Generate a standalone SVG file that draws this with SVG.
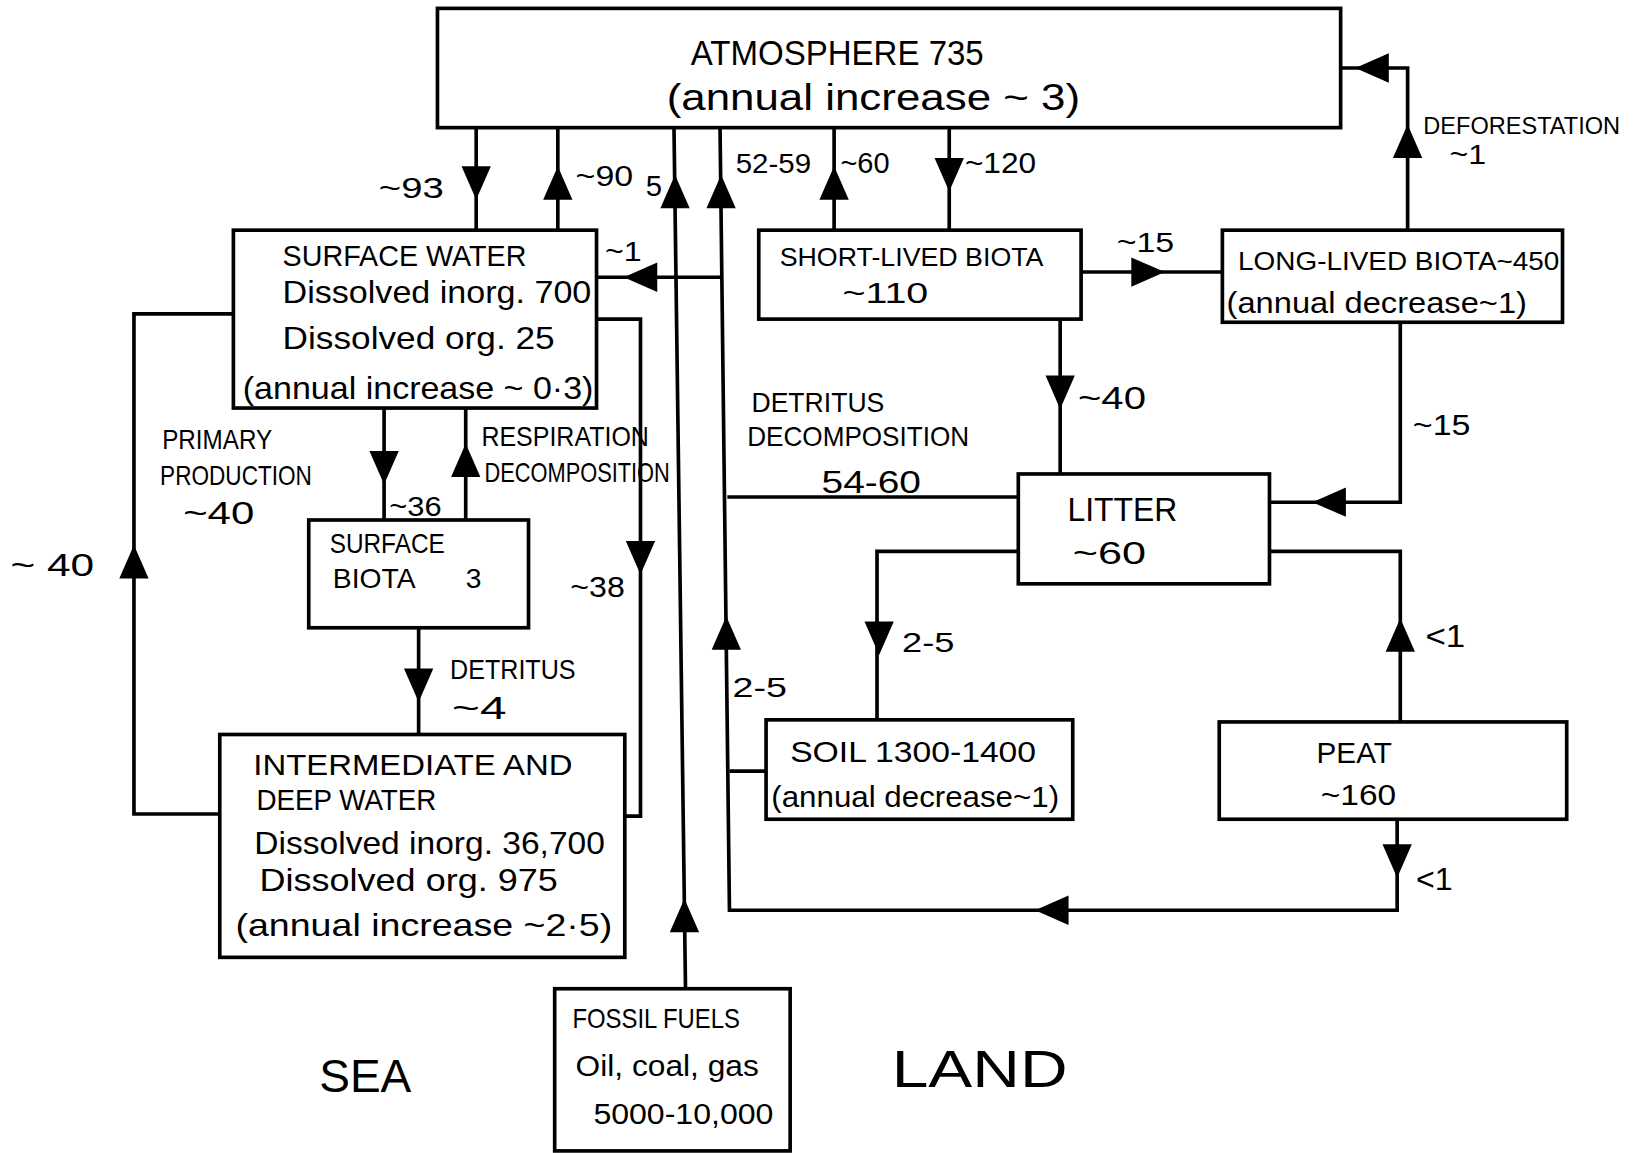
<svg xmlns="http://www.w3.org/2000/svg" xmlns:xlink="http://www.w3.org/1999/xlink" width="1641" height="1153" viewBox="0 0 1641 1153">
<style>
.box{fill:#fff;stroke:#000;stroke-width:3.5}
.ln{fill:none;stroke:#000;stroke-width:3.5;stroke-linejoin:miter}
text{font-family:"Liberation Sans",Arial,sans-serif;fill:#000}
.c{font-size:27px}
.h{font-size:30px}
.l{font-size:28px}
</style>
<defs>
<path id="ah" d="M0,0 L-32,-14 L-32,14 Z" fill="#000"/>
</defs>
<rect width="1641" height="1153" fill="#fff"/>
<g transform="scale(1.04656,1.04628)">
<g id="connectors">
<path class="ln" d="M455,122 V220"/>
<path class="ln" d="M533,122 V220"/>
<path class="ln" d="M644,122 L655,945"/>
<path class="ln" d="M688,122 L697,870 H1335 V783"/>
<path class="ln" d="M689,265 H570"/>
<path class="ln" d="M695,475 H973"/>
<path class="ln" d="M697,737 H732"/>
<path class="ln" d="M797,122 V220"/>
<path class="ln" d="M907,122 V220"/>
<path class="ln" d="M570,305 H612 V780 H597"/>
<path class="ln" d="M367,390 V497"/>
<path class="ln" d="M445,390 V497"/>
<path class="ln" d="M400,600 V702"/>
<path class="ln" d="M210,778 H128 V300 H223"/>
<path class="ln" d="M1033,260 H1168"/>
<path class="ln" d="M1345,220 V65 H1281"/>
<path class="ln" d="M1013,305 V453"/>
<path class="ln" d="M1338,308 V480 H1213"/>
<path class="ln" d="M973,527 H838 V688"/>
<path class="ln" d="M1338,690 V527 H1213"/>
<use xlink:href="#ah" transform="translate(455,191) rotate(90)"/>
<use xlink:href="#ah" transform="translate(533,159) rotate(-90)"/>
<use xlink:href="#ah" transform="translate(645,167) rotate(-90)"/>
<use xlink:href="#ah" transform="translate(689,167) rotate(-90)"/>
<use xlink:href="#ah" transform="translate(797,159) rotate(-90)"/>
<use xlink:href="#ah" transform="translate(907,183) rotate(90)"/>
<use xlink:href="#ah" transform="translate(596,265) rotate(180)"/>
<use xlink:href="#ah" transform="translate(367,463) rotate(90)"/>
<use xlink:href="#ah" transform="translate(445,424) rotate(-90)"/>
<use xlink:href="#ah" transform="translate(612,549) rotate(90)"/>
<use xlink:href="#ah" transform="translate(400,671) rotate(90)"/>
<use xlink:href="#ah" transform="translate(128,521) rotate(-90)"/>
<use xlink:href="#ah" transform="translate(654,859) rotate(-90)"/>
<use xlink:href="#ah" transform="translate(1113,260)"/>
<use xlink:href="#ah" transform="translate(1345,119) rotate(-90)"/>
<use xlink:href="#ah" transform="translate(1295,65) rotate(180)"/>
<use xlink:href="#ah" transform="translate(1013,391) rotate(90)"/>
<use xlink:href="#ah" transform="translate(1254,480) rotate(180)"/>
<use xlink:href="#ah" transform="translate(840,626) rotate(90)"/>
<use xlink:href="#ah" transform="translate(694,589) rotate(-90)"/>
<use xlink:href="#ah" transform="translate(1338,591) rotate(-90)"/>
<use xlink:href="#ah" transform="translate(1335,839) rotate(90)"/>
<use xlink:href="#ah" transform="translate(989,870) rotate(180)"/>
</g>
<g id="labels">
<text class="l" x="362" y="189" textLength="62" lengthAdjust="spacingAndGlyphs">~93</text>
<text class="l" x="550" y="178" textLength="55" lengthAdjust="spacingAndGlyphs">~90</text>
<text class="l" x="617" y="187">5</text>
<text class="c" x="703" y="165" textLength="72" lengthAdjust="spacingAndGlyphs">52-59</text>
<text class="l" x="803" y="165" textLength="47" lengthAdjust="spacingAndGlyphs">~60</text>
<text class="l" x="922" y="165" textLength="68" lengthAdjust="spacingAndGlyphs">~120</text>
<text class="c" x="578" y="249" textLength="35" lengthAdjust="spacingAndGlyphs">~1</text>
<text class="c" x="155" y="429" textLength="105" lengthAdjust="spacingAndGlyphs">PRIMARY</text>
<text class="c" x="153" y="464" textLength="145" lengthAdjust="spacingAndGlyphs">PRODUCTION</text>
<text class="h" x="175" y="501" textLength="68" lengthAdjust="spacingAndGlyphs">~40</text>
<text class="h" x="10" y="551" textLength="80" lengthAdjust="spacingAndGlyphs">~ 40</text>
<text class="c" x="460" y="426" textLength="160" lengthAdjust="spacingAndGlyphs">RESPIRATION</text>
<text class="c" x="463" y="461" textLength="177" lengthAdjust="spacingAndGlyphs">DECOMPOSITION</text>
<text class="c" x="372" y="493" textLength="50" lengthAdjust="spacingAndGlyphs">~36</text>
<text class="l" x="545" y="571" textLength="52" lengthAdjust="spacingAndGlyphs">~38</text>
<text class="c" x="430" y="649" textLength="120" lengthAdjust="spacingAndGlyphs">DETRITUS</text>
<text class="h" x="432" y="687" textLength="52" lengthAdjust="spacingAndGlyphs">~4</text>
<text style="font-size:44px" x="305" y="1044" textLength="88" lengthAdjust="spacingAndGlyphs">SEA</text>
<text style="font-size:50px" x="852" y="1039" textLength="168" lengthAdjust="spacingAndGlyphs">LAND</text>
<text class="c" x="1067" y="241" textLength="55" lengthAdjust="spacingAndGlyphs">~15</text>
<text style="font-size:22px" x="1360" y="128" textLength="188" lengthAdjust="spacingAndGlyphs">DEFORESTATION</text>
<text class="c" x="1385" y="157" textLength="35" lengthAdjust="spacingAndGlyphs">~1</text>
<text class="h" x="1030" y="391" textLength="65" lengthAdjust="spacingAndGlyphs">~40</text>
<text class="l" x="1350" y="416" textLength="55" lengthAdjust="spacingAndGlyphs">~15</text>
<text class="c" x="718" y="394" textLength="127" lengthAdjust="spacingAndGlyphs">DETRITUS</text>
<text class="c" x="714" y="426" textLength="212" lengthAdjust="spacingAndGlyphs">DECOMPOSITION</text>
<text class="h" x="785" y="471" textLength="95" lengthAdjust="spacingAndGlyphs">54-60</text>
<text class="c" x="862" y="623" textLength="50" lengthAdjust="spacingAndGlyphs">2-5</text>
<text class="c" x="700" y="666" textLength="52" lengthAdjust="spacingAndGlyphs">2-5</text>
<text class="h" x="1362" y="618" textLength="38" lengthAdjust="spacingAndGlyphs">&lt;1</text>
<text class="h" x="1353" y="851" textLength="35" lengthAdjust="spacingAndGlyphs">&lt;1</text>
</g>
<g id="atmosphere">
<rect class="box" x="418" y="8" width="863" height="114"/>
<text style="font-size:34px" x="660" y="62" textLength="280" lengthAdjust="spacingAndGlyphs">ATMOSPHERE 735</text>
<text style="font-size:36px" x="637" y="105" textLength="395" lengthAdjust="spacingAndGlyphs">(annual increase ~ 3)</text>
</g>
<g id="surface-water">
<rect class="box" x="223" y="220" width="347" height="170"/>
<text class="l" x="270" y="254" textLength="233" lengthAdjust="spacingAndGlyphs">SURFACE WATER</text>
<text class="h" x="270" y="290" textLength="295" lengthAdjust="spacingAndGlyphs">Dissolved inorg. 700</text>
<text class="h" x="270" y="334" textLength="260" lengthAdjust="spacingAndGlyphs">Dissolved org. 25</text>
<text class="h" x="232" y="381" textLength="335" lengthAdjust="spacingAndGlyphs">(annual increase ~ 0·3)</text>
</g>
<g id="surface-biota">
<rect class="box" x="295" y="497" width="210" height="103"/>
<text class="c" x="315" y="529" textLength="110" lengthAdjust="spacingAndGlyphs">SURFACE</text>
<text class="c" x="318" y="562">BIOTA<tspan x="445">3</tspan></text>
</g>
<g id="deep-water">
<rect class="box" x="210" y="702" width="387" height="213"/>
<text class="l" x="242" y="741" textLength="305" lengthAdjust="spacingAndGlyphs">INTERMEDIATE AND</text>
<text class="l" x="245" y="774" textLength="172" lengthAdjust="spacingAndGlyphs">DEEP WATER</text>
<text class="h" x="243" y="816" textLength="335" lengthAdjust="spacingAndGlyphs">Dissolved inorg. 36,700</text>
<text class="h" x="248" y="852" textLength="285" lengthAdjust="spacingAndGlyphs">Dissolved org. 975</text>
<text class="h" x="225" y="895" textLength="360" lengthAdjust="spacingAndGlyphs">(annual increase ~2·5)</text>
</g>
<g id="fossil-fuels">
<rect class="box" x="530" y="945" width="225" height="155"/>
<text class="c" x="547" y="983" textLength="160" lengthAdjust="spacingAndGlyphs">FOSSIL FUELS</text>
<text style="font-size:28px" x="550" y="1028" textLength="175" lengthAdjust="spacingAndGlyphs">Oil, coal, gas</text>
<text class="l" x="567" y="1074" textLength="172" lengthAdjust="spacingAndGlyphs">5000-10,000</text>
</g>
<g id="short-lived-biota">
<rect class="box" x="725" y="220" width="308" height="85"/>
<text style="font-size:25px" x="745" y="254" textLength="252" lengthAdjust="spacingAndGlyphs">SHORT-LIVED BIOTA</text>
<text class="l" x="805" y="290" textLength="82" lengthAdjust="spacingAndGlyphs">~110</text>
</g>
<g id="long-lived-biota">
<rect class="box" x="1168" y="220" width="325" height="88"/>
<text style="font-size:25px" x="1183" y="258" textLength="307" lengthAdjust="spacingAndGlyphs">LONG-LIVED BIOTA~450</text>
<text style="font-size:29px" x="1172" y="299" textLength="287" lengthAdjust="spacingAndGlyphs">(annual decrease~1)</text>
</g>
<g id="litter">
<rect class="box" x="973" y="453" width="240" height="105"/>
<text style="font-size:31px" x="1020" y="498" textLength="105" lengthAdjust="spacingAndGlyphs">LITTER</text>
<text class="h" x="1025" y="539" textLength="70" lengthAdjust="spacingAndGlyphs">~60</text>
</g>
<g id="soil">
<rect class="box" x="732" y="688" width="293" height="95"/>
<text class="l" x="755" y="728" textLength="235" lengthAdjust="spacingAndGlyphs">SOIL 1300-1400</text>
<text class="l" x="737" y="771" textLength="275" lengthAdjust="spacingAndGlyphs">(annual decrease~1)</text>
</g>
<g id="peat">
<rect class="box" x="1165" y="690" width="332" height="93"/>
<text class="l" x="1258" y="729" textLength="72" lengthAdjust="spacingAndGlyphs">PEAT</text>
<text class="l" x="1262" y="769" textLength="72" lengthAdjust="spacingAndGlyphs">~160</text>
</g>
</g>
</svg>
